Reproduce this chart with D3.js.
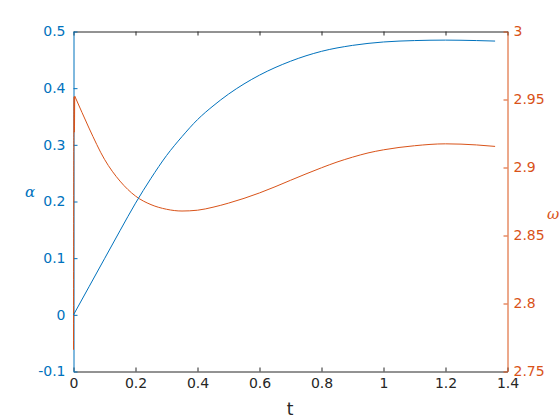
<!DOCTYPE html>
<html>
<head>
<meta charset="utf-8">
<script src="https://cdn.jsdelivr.net/npm/d3@7"></script>
<style>
  body { margin: 0; background: #fff; }
  svg { display: block; font-family: "DejaVu Sans", sans-serif; }
</style>
</head>
<body>
<svg id="chart" width="560" height="420"></svg>
<script>
// alpha (left axis) samples
const tAlpha = [0, 0.05, 0.1, 0.15, 0.2, 0.25, 0.3, 0.35, 0.4, 0.45, 0.5, 0.55, 0.6, 0.7, 0.8, 0.9, 1.0, 1.1, 1.2, 1.3, 1.36];
const alpha = [0, 0.0495, 0.099, 0.1485, 0.197, 0.241, 0.281, 0.3145, 0.3445, 0.3685, 0.3895, 0.4075, 0.423, 0.4475, 0.465, 0.4755, 0.4815, 0.484, 0.4848, 0.484, 0.4831];

// omega (right axis) samples, start has a jump and some wiggle
const tOmega = [0, 0.001, 0.002, 0.003, 0.004, 0.005, 0.05, 0.1, 0.15, 0.2, 0.25, 0.3, 0.35, 0.4, 0.45, 0.5, 0.55, 0.6, 0.65, 0.7, 0.75, 0.8, 0.85, 0.9, 0.95, 1.0, 1.1, 1.2, 1.3, 1.36];
const omega = [2.766, 2.924, 2.952, 2.926, 2.9525, 2.952, 2.929, 2.906, 2.890, 2.879, 2.8727, 2.8693, 2.868, 2.8686, 2.8708, 2.8738, 2.8773, 2.8813, 2.8858, 2.8906, 2.8953, 2.8998, 2.904, 2.9076, 2.9107, 2.913, 2.916, 2.9174, 2.9166, 2.9155];

const xTicks = [0, 0.2, 0.4, 0.6, 0.8, 1, 1.2, 1.4];
const leftTicks = [-0.1, 0, 0.1, 0.2, 0.3, 0.4, 0.5];
const rightTicks = [2.75, 2.8, 2.85, 2.9, 2.95, 3];

const blue = "#0072BD", orange = "#D95319", ink = "#262626";
const L = 73.5, R = 507.5, T = 31.5, B = 371.5;

const svg = d3.select("#chart");
svg.append("rect").attr("width", 560).attr("height", 420).attr("fill", "#fff");

const x = d3.scaleLinear().domain([0, 1.4]).range([L, R]);
const yL = d3.scaleLinear().domain([-0.1, 0.5]).range([B, T]);
const yR = d3.scaleLinear().domain([2.75, 3]).range([B, T]);

const fmt = d => String(d);

// x axes (bottom with labels, top mirrored ticks)
const gx = svg.append("g").attr("transform", `translate(0,${B})`)
  .call(d3.axisBottom(x).tickValues(xTicks).tickFormat(fmt).tickSizeInner(-4).tickSizeOuter(0).tickPadding(7));
const gt = svg.append("g").attr("transform", `translate(0,${T})`)
  .call(d3.axisTop(x).tickValues(xTicks).tickFormat("").tickSizeInner(-4).tickSizeOuter(0));

const gl = svg.append("g").attr("transform", `translate(${L},0)`)
  .call(d3.axisLeft(yL).tickValues(leftTicks).tickFormat(fmt).tickSizeInner(-4).tickSizeOuter(0).tickPadding(8));
const gr = svg.append("g").attr("transform", `translate(${R},0)`)
  .call(d3.axisRight(yR).tickValues(rightTicks).tickFormat(fmt).tickSizeInner(-4).tickSizeOuter(0).tickPadding(6));

[[gx, ink], [gt, ink], [gl, blue], [gr, orange]].forEach(([g, c]) => {
  g.selectAll("path, line").attr("stroke", c).attr("stroke-width", 1);
  g.selectAll("text").attr("fill", c).style("font-size", "14px").style("font-family", "DejaVu Sans, sans-serif");
});

// lines
const lineA = d3.line().x((d, i) => x(tAlpha[i])).y(d => yL(d)).curve(d3.curveMonotoneX);
const lineO = d3.line().x((d, i) => x(tOmega[i])).y(d => yR(d)).curve(d3.curveMonotoneX);

svg.append("path").datum(omega).attr("d", lineO)
  .attr("fill", "none").attr("stroke", orange).attr("stroke-width", 1);
svg.append("path").datum(alpha).attr("d", lineA)
  .attr("fill", "none").attr("stroke", blue).attr("stroke-width", 1);

// labels
svg.append("text").attr("x", 290).attr("y", 415).attr("text-anchor", "middle")
  .attr("fill", ink).style("font-size", "17px").text("t");
svg.append("text").attr("x", 30).attr("y", 197).attr("text-anchor", "middle")
  .attr("fill", blue).style("font-family", "DejaVu Serif, serif").style("font-style", "italic")
  .style("font-size", "15px").text("α");
svg.append("text").attr("x", 553).attr("y", 219).attr("text-anchor", "middle")
  .attr("fill", orange).style("font-family", "DejaVu Serif, serif").style("font-style", "italic")
  .style("font-size", "15px").text("ω");
</script>
</body>
</html>
